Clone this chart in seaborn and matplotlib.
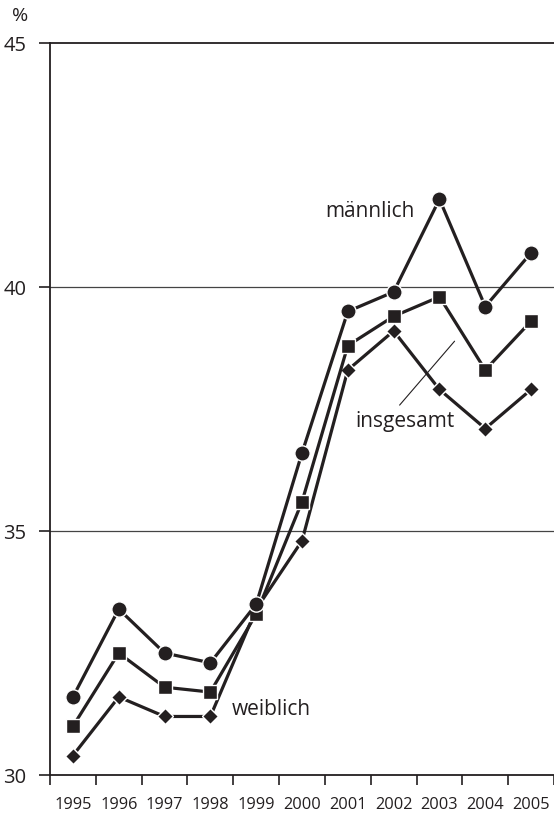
import numpy as np
import pandas as pd
import seaborn as sns
import matplotlib.pyplot as plt
from matplotlib.ticker import FixedLocator

sns.set_style("white")
plt.rcParams["font.family"] = ["Open Sans", "DejaVu Sans"]

years = ["1995", "1996", "1997", "1998", "1999", "2000", "2001", "2002", "2003", "2004", "2005"]
maennlich = [31.6, 33.4, 32.5, 32.3, 33.5, 36.6, 39.5, 39.9, 41.8, 39.6, 40.7]
insgesamt = [31.0, 32.5, 31.8, 31.7, 33.3, 35.6, 38.8, 39.4, 39.8, 38.3, 39.3]
weiblich = [30.4, 31.6, 31.2, 31.2, 33.4, 34.8, 38.3, 39.1, 37.9, 37.1, 37.9]
y_ticks = [30, 35, 40, 45]

fig = plt.figure(figsize=(5.54, 8.16), dpi=100)
ax = fig.add_axes([0.0903, 0.0502, 0.9097, 0.8971])

# drawing order: weiblich underneath, männlich on top
for vals, mk, ms in [(weiblich, "D", 8.5), (insgesamt, "s", 10), (maennlich, "o", 11)]:
    df = pd.DataFrame({"Jahr": years, "Wert": vals})
    sns.lineplot(data=df, x="Jahr", y="Wert", ax=ax, color="#231f20", linewidth=2.3,
                 marker=mk, markersize=ms, markeredgecolor="white", markeredgewidth=1.0,
                 sort=False)

ax.set_xlim(-0.5, len(years) - 0.5)
ax.set_ylim(30, 45)
ax.set_yticks(y_ticks)
ax.set_yticklabels([str(t) for t in y_ticks], fontsize=14.5)
ax.set_xticks(range(len(years)))
ax.set_xticklabels(years, fontsize=11.8)
ax.xaxis.set_minor_locator(FixedLocator(np.arange(-0.5, len(years), 1.0)))
ax.tick_params(axis="x", which="major", length=0, pad=16, colors="#231f20")
ax.tick_params(axis="x", which="minor", length=7, width=1.2, direction="out", color="#231f20", bottom=True)
ax.tick_params(axis="y", length=8, width=1.2, direction="out", pad=9, colors="#231f20", left=True)
ax.set_xlabel("")
ax.set_ylabel("")

for y in [35, 40]:
    ax.axhline(y, color="#444444", linewidth=0.9, zorder=0)

for side in ["left", "bottom", "top"]:
    ax.spines[side].set_color("#231f20")
    ax.spines[side].set_linewidth(1.3)
ax.spines["right"].set_visible(False)

ax.text(6.48, 41.55, "männlich", fontsize=15, ha="center", va="center", color="#231f20")
ax.text(7.24, 37.25, "insgesamt", fontsize=15, ha="center", va="center", color="#231f20")
ax.text(4.33, 31.35, "weiblich", fontsize=15, ha="center", va="center", color="#231f20")
ax.plot([7.13, 8.33], [37.58, 38.89], color="#231f20", linewidth=0.8)

fig.text(20 / 554, 1 - 16 / 816, "%", fontsize=14, ha="center", va="center", color="#231f20")

fig.savefig("out.png", dpi=100)
